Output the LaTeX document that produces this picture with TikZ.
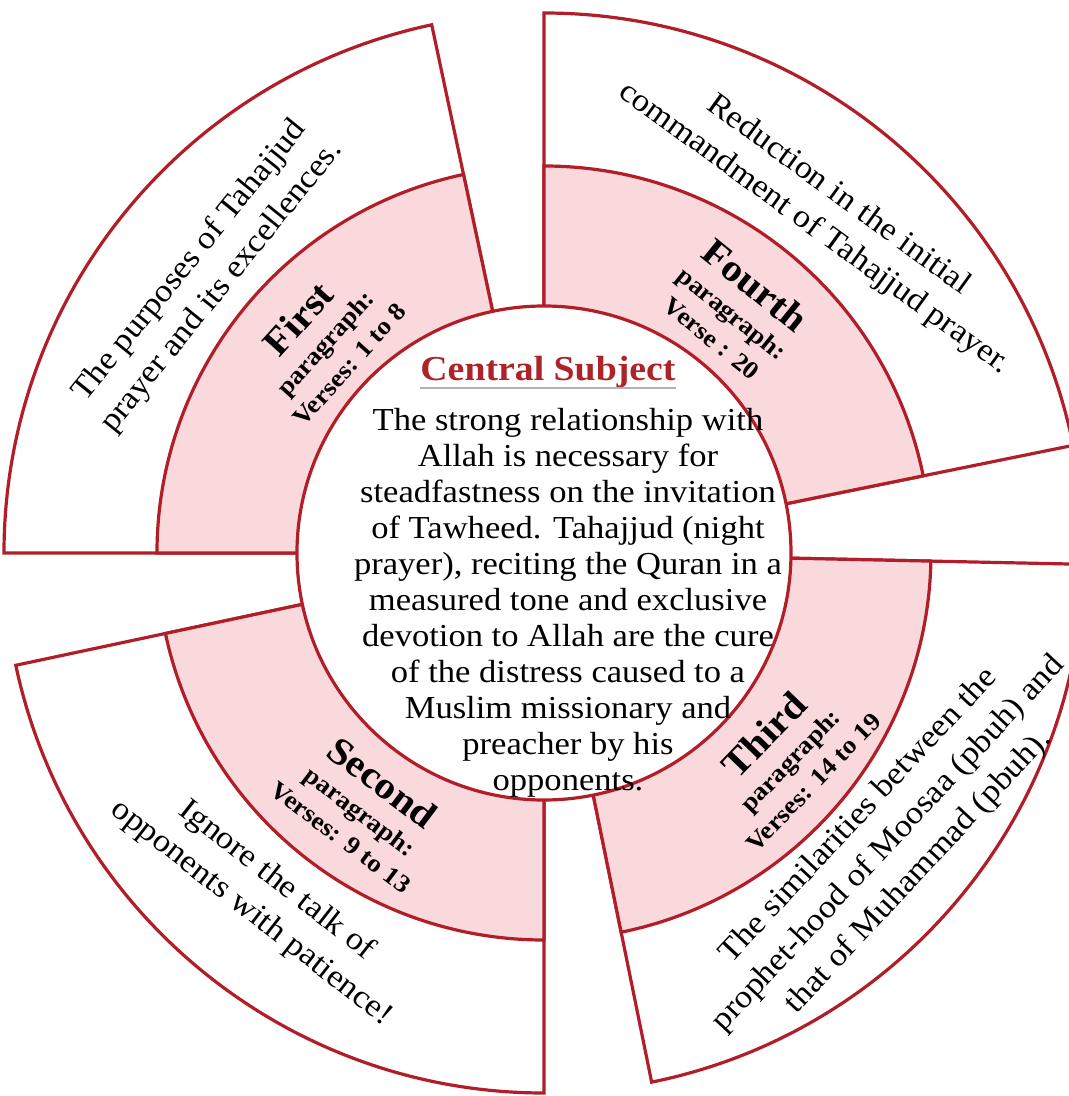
\documentclass[tikz,border=0pt]{standalone}
\usepackage{fontspec}
\setmainfont{Liberation Serif}[FakeStretch=1.08]
\usepackage{tikz}
\definecolor{linered}{RGB}{178,30,40}
\definecolor{bandpink}{RGB}{250,217,220}
\definecolor{titlered}{RGB}{172,36,40}

\begin{document}
\begin{tikzpicture}[x=1pt,y=1pt]
\tikzstyle{band}=[draw=linered,line width=3.2pt,line join=miter]
\tikzstyle{note}=[inner sep=0pt,align=center,font=\fontsize{32}{41}\selectfont]
\tikzstyle{para}=[inner sep=0pt,align=center,font=\bfseries\fontsize{25}{32}\selectfont]
\newcommand{\paraname}[1]{{\fontsize{38}{38}\selectfont #1}}
\clip (-544,-543) rectangle (525,553);
% the four exploded quarters
\foreach \startang/\endang in {102/180,192/270,281.5/358.8,11.5/90}{
	\filldraw[band,fill=white] (0,0) -- (\startang:540) arc[start angle=\startang,end angle=\endang,radius=540] -- cycle;
	\filldraw[band,fill=bandpink] (0,0) -- (\startang:387) arc[start angle=\startang,end angle=\endang,radius=387] -- cycle;
}
\filldraw[band,fill=white] (0,0) circle[radius=247];
% centre
\node[inner sep=0pt,anchor=base,text=titlered,font=\bfseries\fontsize{35}{35}\selectfont] (title) at (4,173) {Central Subject};
\draw[gray!60,line width=1.4pt] ([yshift=-8pt]title.base west) -- ([yshift=-8pt]title.base east);
\node[inner sep=0pt,align=center,font=\fontsize{32}{36}\selectfont] (subject) at (24,-50) {The strong relationship with\\
Allah is necessary for\\
steadfastness on the invitation\\
of Tawheed. Tahajjud (night\\
prayer), reciting the Quran in a\\
measured tone and exclusive\\
devotion to Allah are the cure\\
of the distress caused to a\\
Muslim missionary and\\
preacher by his\\
opponents.};
% paragraphs
\node[para,rotate=48] (p1) at (-222,213) {\paraname{First}\\paragraph:\\Verses: 1 to 8};
\node[para,rotate=-37] (p2) at (-181,-255) {\paraname{Second}\\paragraph:\\Verses: 9 to 13};
\node[para,rotate=46] (p3) at (243,-204) {\paraname{Third}\\paragraph:\\Verses: 14 to 19};
\node[para,rotate=-39] (p4) at (191,243) {\paraname{Fourth}\\paragraph:\\Verse : 20};
% outer notes
\node[note,rotate=51] (n1) at (-338,279) {The purposes of Tahajjud\\prayer and its excellences.};
\node[note,rotate=-38] (n2) at (-280,-344) {Ignore the talk of\\opponents with patience!};
\node[note,rotate=47] (n3) at (345,-291) {The similarities between the\\prophet-hood of Moosaa (pbuh) and\\that of Muhammad (pbuh).};
\node[note,rotate=-36] (n4) at (282,341) {Reduction in the initial\\commandment of Tahajjud prayer.};
\end{tikzpicture}
\end{document}
